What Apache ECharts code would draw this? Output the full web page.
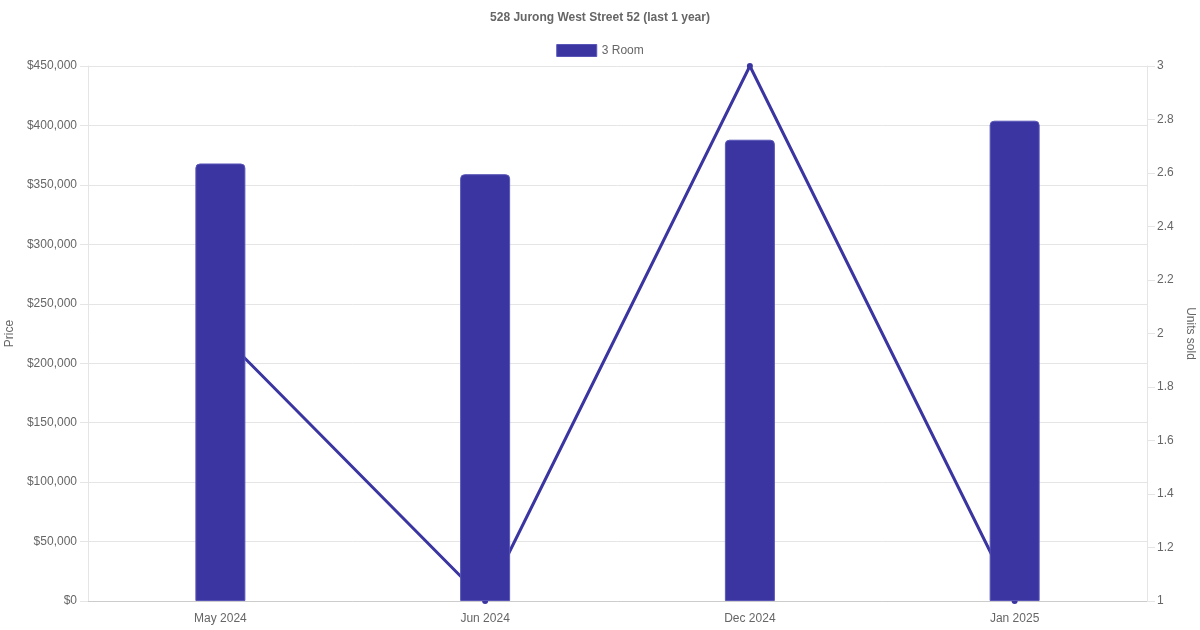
<!DOCTYPE html>
<html>
<head>
<meta charset="utf-8">
<style type="text/css">
html, body {margin: 0; padding: 0; background: #fff;}
#chart {width: 1200px; height: 630px;}
</style>
<script src="https://cdn.jsdelivr.net/npm/echarts@6/dist/echarts.min.js"></script>
</head>
<body>
<div id="chart"></div>
<script type="text/javascript">
var months = ['May 2024', 'Jun 2024', 'Dec 2024', 'Jan 2025'];
var prices = [368000, 359000, 388000, 404000];
var unitsSold = [2, 1, 3, 1];

var color = '#3a35a0';
var textColor = '#666';
var gridColor = '#e5e5e5';

var chart = echarts.init(document.getElementById('chart'));
var option = {
    animation: false,
    textStyle: {fontFamily: '"Liberation Sans", Arial, Helvetica, sans-serif'},
    title: {
        text: '528 Jurong West Street 52 (last 1 year)',
        left: 'center',
        top: 7,
        textStyle: {fontSize: 12, fontWeight: 'bold', color: textColor}
    },
    legend: {
        data: [{name: '3 Room', icon: 'rect'}],
        top: 39,
        left: 'center',
        itemWidth: 40,
        itemHeight: 12,
        itemGap: 10,
        itemStyle: {borderWidth: 1, borderColor: '#5a56b8'},
        textStyle: {fontSize: 12, color: textColor}
    },
    grid: {left: 88, right: 53, top: 66, bottom: 29, outerBoundsMode: 'none'},
    xAxis: {
        type: 'category',
        data: months,
        axisLine: {lineStyle: {color: '#ccc'}},
        axisTick: {show: false},
        axisLabel: {color: textColor, fontSize: 12, margin: 12}
    },
    yAxis: [
        {
            type: 'value',
            name: 'Price',
            nameLocation: 'middle',
            nameGap: 70,
            nameTextStyle: {color: textColor, fontSize: 12},
            min: 0,
            max: 450000,
            interval: 50000,
            axisLine: {show: true, lineStyle: {color: gridColor}},
            axisTick: {show: true, length: 8, lineStyle: {color: gridColor}},
            splitLine: {lineStyle: {color: gridColor}},
            axisLabel: {
                color: textColor, fontSize: 12, margin: 11,
                formatter: function (v) { return '$' + v.toLocaleString('en-US'); }
            }
        },
        {
            type: 'value',
            name: 'Units sold',
            nameLocation: 'middle',
            nameGap: 34,
            nameRotate: -90,
            nameTextStyle: {color: textColor, fontSize: 12},
            min: 1,
            max: 3,
            interval: 0.2,
            position: 'right',
            axisLine: {show: true, lineStyle: {color: gridColor}},
            axisTick: {show: true, length: 8, lineStyle: {color: gridColor}},
            splitLine: {show: false},
            axisLabel: {
                color: textColor, fontSize: 12, margin: 10,
                formatter: function (v) { return String(Math.round(v * 10) / 10); }
            }
        }
    ],
    series: [
        {
            name: '3 Room',
            type: 'bar',
            data: prices,
            barWidth: 50,
            z: 3,
            itemStyle: {
                color: color,
                borderColor: '#5a56b8',
                borderWidth: 1,
                borderRadius: [4, 4, 0, 0]
            }
        },
        {
            name: 'Units sold',
            type: 'line',
            yAxisIndex: 1,
            data: unitsSold,
            z: 2,
            symbol: 'circle',
            symbolSize: 6,
            lineStyle: {color: color, width: 3},
            itemStyle: {color: color}
        }
    ]
};
chart.setOption(option);
</script>
</body>
</html>
